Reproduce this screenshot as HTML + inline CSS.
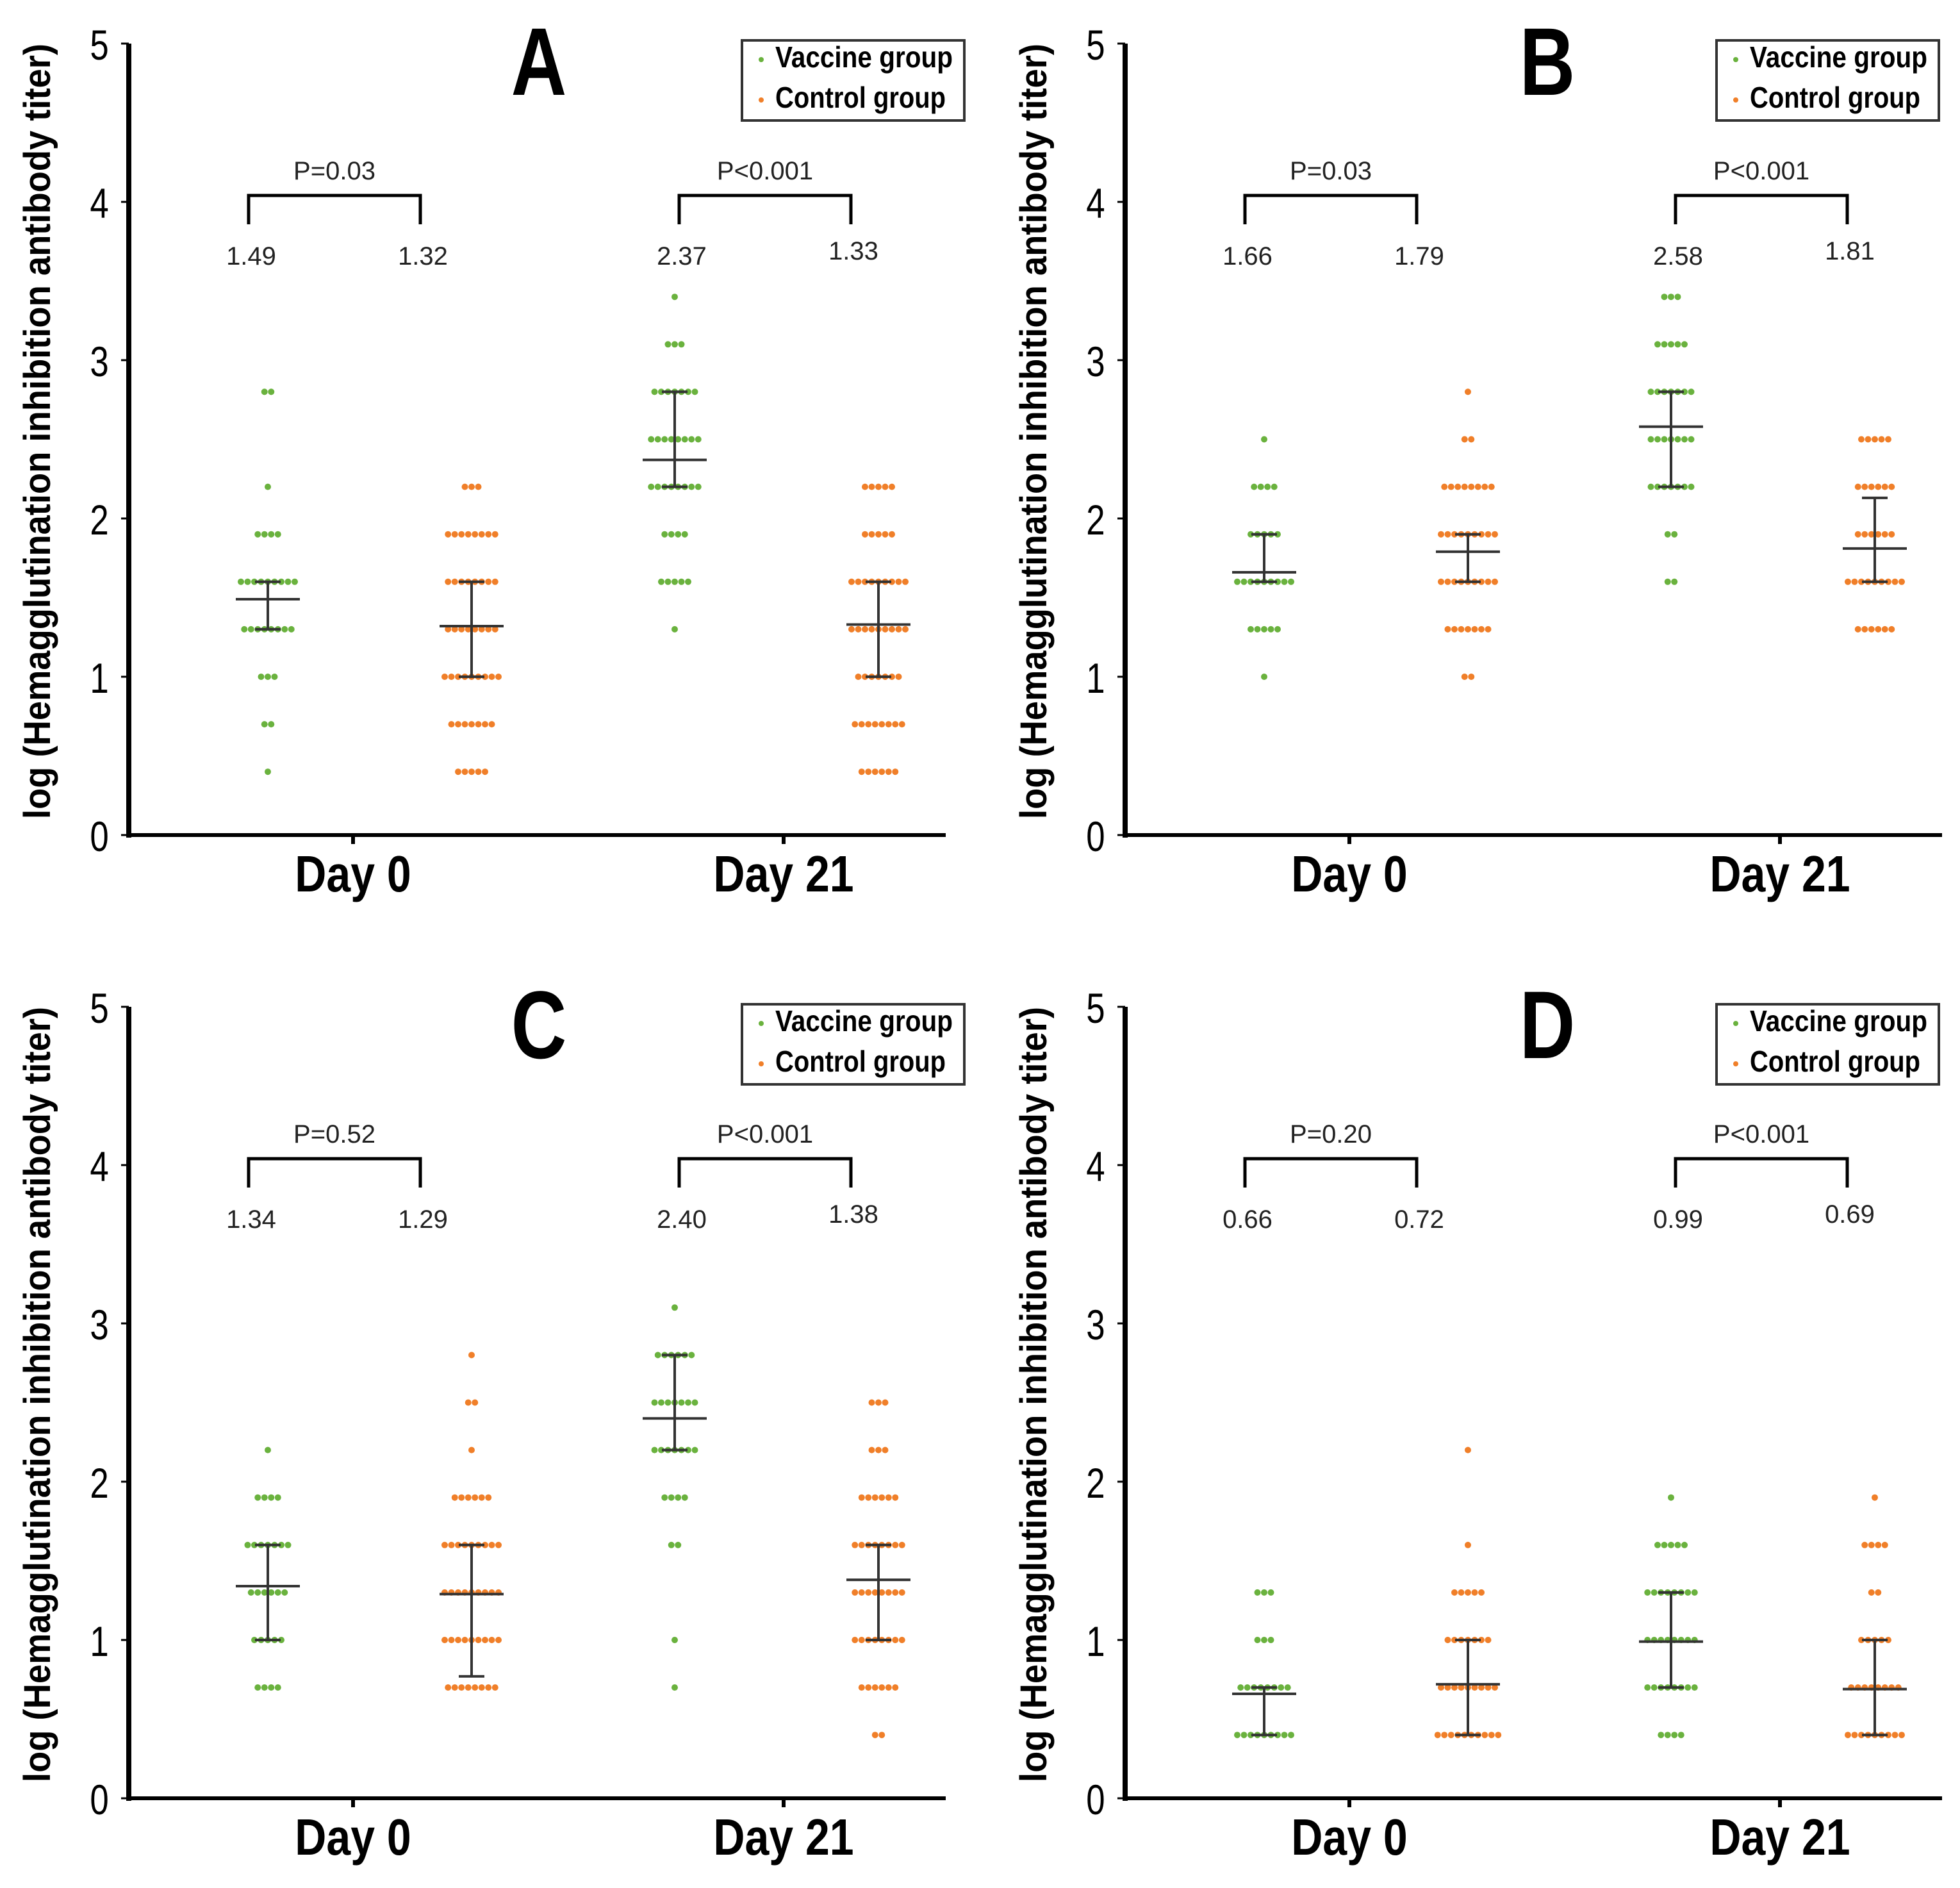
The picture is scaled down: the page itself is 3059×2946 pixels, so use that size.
<!DOCTYPE html>
<html><head><meta charset="utf-8"><style>
html,body{margin:0;padding:0;background:#fff}
svg{display:block}
text{font-family:"Liberation Sans",Arial,sans-serif}
</style></head><body>
<svg id="fig" xmlns="http://www.w3.org/2000/svg" width="3059" height="2946" viewBox="0 0 3059 2946"></svg>
<script>
// ---- data ----
const panelLetters = ["A","B","C","D"];
const categories = ["Day 0","Day 21"];
const yTicks = [0,1,2,3,4,5];
const pLabels = [["P=0.03","P<0.001"],["P=0.03","P<0.001"],["P=0.52","P<0.001"],["P=0.20","P<0.001"]];
// per panel: [vacc d0, ctrl d0, vacc d21, ctrl d21] as [value,count] rows
const dotsA = [
 [[2.8,2],[2.2,1],[1.9,4],[1.6,9],[1.3,8],[1.0,3],[0.7,2],[0.4,1]],
 [[2.2,3],[1.9,8],[1.6,8],[1.3,8],[1.0,9],[0.7,7],[0.4,5]],
 [[3.4,1],[3.1,3],[2.8,7],[2.5,8],[2.2,8],[1.9,4],[1.6,5],[1.3,1]],
 [[2.2,5],[1.9,5],[1.6,9],[1.3,9],[1.0,7],[0.7,8],[0.4,6]]];
const dotsB = [
 [[2.5,1],[2.2,4],[1.9,5],[1.6,9],[1.3,5],[1.0,1]],
 [[2.8,1],[2.5,2],[2.2,8],[1.9,9],[1.6,9],[1.3,7],[1.0,2]],
 [[3.4,3],[3.1,5],[2.8,7],[2.5,7],[2.2,7],[1.9,2],[1.6,2]],
 [[2.5,5],[2.2,6],[1.9,6],[1.6,9],[1.3,6]]];
const dotsC = [
 [[2.2,1],[1.9,4],[1.6,7],[1.3,6],[1.0,5],[0.7,4]],
 [[2.8,1],[2.5,2],[2.2,1],[1.9,6],[1.6,9],[1.3,9],[1.0,9],[0.7,8]],
 [[3.1,1],[2.8,6],[2.5,7],[2.2,7],[1.9,4],[1.6,2],[1.0,1],[0.7,1]],
 [[2.5,3],[2.2,3],[1.9,6],[1.6,8],[1.3,8],[1.0,8],[0.7,6],[0.4,2]]];
const dotsD = [
 [[1.3,3],[1.0,3],[0.7,8],[0.4,9]],
 [[2.2,1],[1.6,1],[1.3,5],[1.0,7],[0.7,9],[0.4,10]],
 [[1.9,1],[1.6,5],[1.3,8],[1.0,8],[0.7,8],[0.4,4]],
 [[1.9,1],[1.6,4],[1.3,2],[1.0,5],[0.7,8],[0.4,9]]];
const meansA = [1.49,1.32,2.37,1.33];
const meansB = [1.66,1.79,2.58,1.81];
const meansC = [1.34,1.29,2.40,1.38];
const meansD = [0.66,0.72,0.99,0.69];
const errLowA = [1.3,1.0,2.2,1.0], errHighA = [1.6,1.6,2.8,1.6];
const errLowB = [1.6,1.6,2.2,1.6], errHighB = [1.9,1.9,2.8,2.13];
const errLowC = [1.0,0.77,2.2,1.0], errHighC = [1.6,1.6,2.8,1.6];
const errLowD = [0.4,0.4,0.7,0.4], errHighD = [0.7,1.0,1.3,1.0];

const dots=[dotsA,dotsB,dotsC,dotsD], means=[meansA,meansB,meansC,meansD];
const lows=[errLowA,errLowB,errLowC,errLowD], highs=[errHighA,errHighB,errHighC,errHighD];

const NS="http://www.w3.org/2000/svg";
const svg=document.getElementById('fig');
function mk(tag,attrs,parent,txt){const e=document.createElementNS(NS,tag);for(const k in attrs)e.setAttribute(k,attrs[k]);if(txt!==undefined)e.textContent=txt;(parent||svg).appendChild(e);return e;}
const GREEN="#6ab23e", ORANGE="#f07f29";
const origins=[[201,1303],[1756,1303],[201,2806],[1756,2806]];
const UNIT=247, XLEN=1275;
const groupOff=[217,535,852,1170], tickOff=[350,1022];

for(let p=0;p<4;p++){
  const [ox,oy]=origins[p];
  const y=v=>oy-v*UNIT;
  const g=mk('g',{});
  
  
  const ya=mk('line',{x1:ox,y1:y(5),x2:ox,y2:oy+4,stroke:'#000','stroke-width':8},g);
  
  const xa=mk('line',{x1:ox-4,y1:oy,x2:ox+XLEN,y2:oy,stroke:'#000','stroke-width':6},g);
  
  yTicks.forEach(t=>{
    mk('line',{x1:ox-12,y1:y(t),x2:ox,y2:y(t),stroke:'#000','stroke-width':3},g);
    const tl=mk('text',{x:ox-46,y:y(t)+25,'font-size':66,'text-anchor':'middle',fill:'#000',transform:`translate(${ox-46} 0) scale(0.8 1) translate(${-(ox-46)} 0)`},g,String(t));
    
  });
  categories.forEach((c,i)=>{
    const tx=ox+tickOff[i];
    mk('line',{x1:tx,y1:oy,x2:tx,y2:oy+14,stroke:'#000','stroke-width':6},g);
    const cl=mk('text',{x:tx,y:oy+88,'font-size':80,'font-weight':'bold','text-anchor':'middle',transform:`translate(${tx} 0) scale(0.85 1) translate(${-tx} 0)`},g,c);
    
    const bx1=tx-163, bx2=tx+105, by=oy-998;
    const br=mk('path',{d:`M${bx1} ${by+45}V${by}H${bx2}V${by+45}`,fill:'none',stroke:'#000','stroke-width':5},g);
    
    const pl=mk('text',{x:(bx1+bx2)/2,y:by-25,'font-size':40,'text-anchor':'middle',fill:'#222'},g,pLabels[p][i]);
    
    [0,1].forEach(k=>{
      const gi=i*2+k;
      const ml=mk('text',{x:k?bx2+4:bx1+4,y:by+(i===1&&k===1?100:108),'font-size':40,'text-anchor':'middle',fill:'#222'},g,means[p][gi].toFixed(2));
      
    });
  });
  for(let gi=0;gi<4;gi++){
    const cx=ox+groupOff[gi], col=gi%2?ORANGE:GREEN;
    dots[p][gi].forEach(([v,n])=>{
      for(let j=0;j<n;j++){
        const dx=(j-(n-1)/2)*10.5;
        const d=mk('circle',{cx:cx+dx,cy:y(v),r:5,fill:col},g);
        
        
      }
    });
    const eb=mk('path',{d:`M${cx} ${y(highs[p][gi])}V${y(lows[p][gi])}M${cx-20} ${y(highs[p][gi])}H${cx+20}M${cx-20} ${y(lows[p][gi])}H${cx+20}`,stroke:'#333','stroke-width':4,fill:'none'},g);
    
    const mn=mk('line',{x1:cx-50,y1:y(means[p][gi]),x2:cx+50,y2:y(means[p][gi]),stroke:'#333','stroke-width':4},g);
    
  }
  const tx=ox-143, ty=oy-630;
  const yt=mk('text',{x:tx,y:ty,'font-size':58,'font-weight':'bold','text-anchor':'middle',transform:`rotate(-90 ${tx} ${ty}) translate(0 20)`,textLength:1210,lengthAdjust:'spacingAndGlyphs'},g,'log (Hemagglutination inhibition antibody titer)');
  
  const lxp=ox+(p%2?659:640);
  const pl=mk('text',{x:lxp,y:oy-1155,'font-size':150,'font-weight':'bold','text-anchor':'middle',transform:`translate(${lxp} 0) scale(0.8 1) translate(${-lxp} 0)`},g,panelLetters[p]);
  
  const lx=ox+(p%2?923:957), ly=oy-(p<2?1240:1239);
  const lg=mk('g',{},g);
  
  mk('rect',{x:lx,y:ly,width:347,height:125,fill:'#fff',stroke:'#333','stroke-width':4},lg);
  [['Vaccine group',GREEN,42],['Control group',ORANGE,105]].forEach(([t,c,dy])=>{
    const e=mk('g',{},lg);
    
    mk('circle',{cx:lx+30,cy:ly+dy-12,r:4,fill:c},e);
    mk('text',{x:lx+52,y:ly+dy,'font-size':46,'font-weight':'bold',textLength:t[0]==='V'?277:266,lengthAdjust:'spacingAndGlyphs'},e,t);
  });
}
</script>
</body></html>
